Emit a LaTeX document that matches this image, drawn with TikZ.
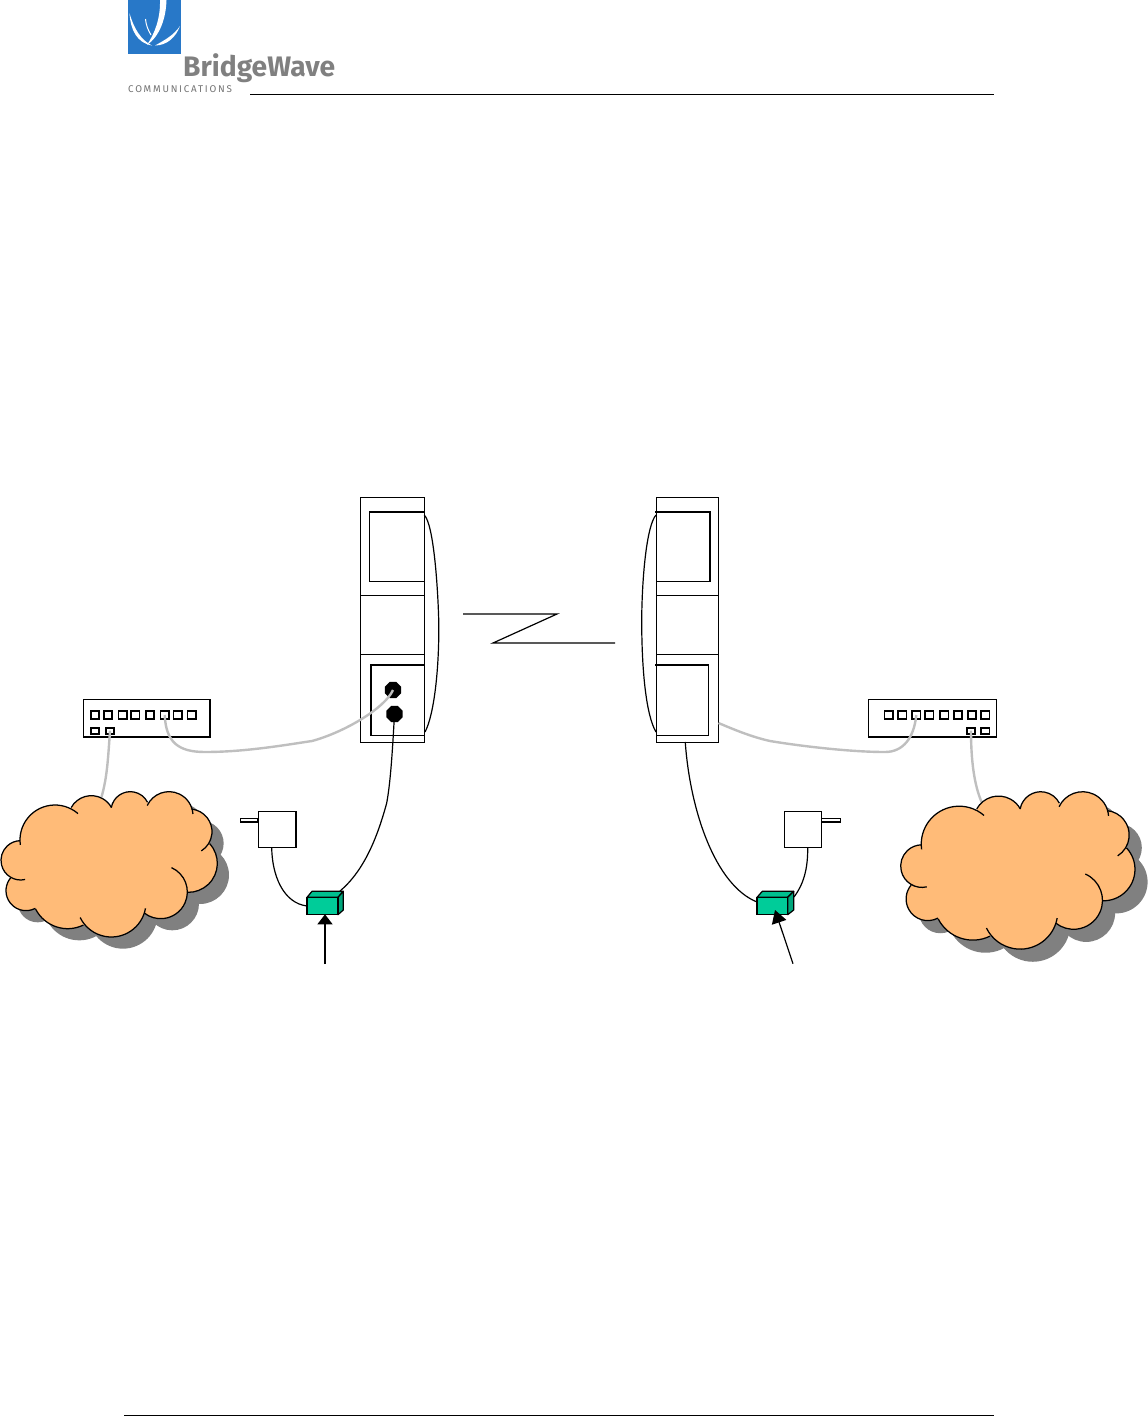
\documentclass[tikz,border=0pt]{standalone}
\usepackage{fontspec}
\usetikzlibrary{arrows.meta,shapes.geometric}
\newfontfamily\logofont{Fira Sans}
\definecolor{cloudfill}{HTML}{FFBB78}
\definecolor{cloudshadow}{HTML}{808080}
\definecolor{cablegray}{HTML}{BFBFBF}
\definecolor{boxgreen}{HTML}{00CC99}
\definecolor{boxtop}{HTML}{00BF8F}
\definecolor{boxside}{HTML}{00A67C}
\definecolor{logoblue}{HTML}{2878C8}
\definecolor{logotext}{HTML}{808080}
\tikzset{
  pbox/.style={draw=black,fill=white,line width=0.9pt,inner sep=0pt,outer sep=0pt,anchor=north west},
  portbox/.style={draw=black,fill=white,line width=1.6pt,inner sep=0pt,outer sep=0pt,minimum width=8.5pt,minimum height=8.5pt},
  portlow/.style={portbox,minimum height=6pt},
  jack/.style={regular polygon,regular polygon sides=8,fill=black,inner sep=0pt,outer sep=0pt,minimum size=17.5pt},
  wire/.style={draw=black,line width=1.2pt},
  edgeline/.style={draw=black,line width=1.9pt,line cap=rect},
  graywire/.style={draw=cablegray,line width=2.4pt},
  pointer/.style={draw=black,line width=1.2pt,-{Triangle[length=10pt,width=15pt]}},
  pointerb/.style={draw=black,line width=1.2pt,-{Triangle[length=13pt,width=15pt]}},
  side/.style={draw=black,line width=1.2pt,line join=round}
}
% cx/cy/r/start/end, in the coordinates of a 3x enlarged view
\def\cloudlist{165/480/105/-188/-49, 274/416/69/-151/-29, 391/393/58/-170/-27,
  507/407/72/-155/-4, 568/455/68/-84/58, 565/550/87/-43/91, 482/636/80/-66/128,
  334/667/104/10/154, 203/638/108/64/153, 78/632/60/62/220, 62/541/59/77/268}
\newcommand\cloudbody[1]{%
  \fill[#1] (165,480) -- (274,416) -- (391,393) -- (507,407) -- (568,455) -- (565,550)
     -- (482,636) -- (334,667) -- (203,638) -- (78,632) -- (62,541) -- cycle;
  \foreach \cx/\cy/\rr/\aa/\bb in \cloudlist {\fill[#1] (\cx,\cy) circle[radius=\rr];}
}
\newcommand\cloudshape{%
  \begin{scope}[shift={(35,35)}]\cloudbody{cloudshadow}\end{scope}
  \cloudbody{cloudfill}
  \foreach \cx/\cy/\rr/\aa/\bb in \cloudlist {
    \draw[draw=black,line width=1.25pt] ({\cx+\rr*cos(\aa)},{\cy+\rr*sin(\aa)}) arc[start angle=\aa,end angle=\bb,radius=\rr];}
}
\begin{document}
\begin{tikzpicture}[x=1pt,y=-1pt]
\useasboundingbox (0,0) rectangle (1148,1416);
% header and footer
\fill[logoblue] (127.5,0) rectangle (181,53.5);
% left crescent
\fill[white] (129.5,13) .. controls (130.5,30) and (137,43) .. (152,45.5) .. controls (141,40) and (134,29) .. (129.5,13) -- cycle;
% right crescent
\fill[white] (180,26) .. controls (176,37) and (167,45.5) .. (155,45.5) .. controls (165,40) and (174,35) .. (180,26) -- cycle;
% long stripe
\fill[white] (160,0) -- (166.5,0) .. controls (166,18) and (160,36) .. (147,45) .. controls (155,33) and (160.5,18) .. (160,0) -- cycle;
% short thin stripe
\draw[white,line width=1pt] (145.5,19) .. controls (146,25) and (148,30) .. (151,35);
\node[inner sep=0pt,anchor=base west,text=logotext,font=\logofont\bfseries\fontsize{28.2}{28}\selectfont] (brand) at (183,76) {BridgeWave};
\node[inner sep=0pt,anchor=base west,text=logotext!90!black,font=\logofont\fontsize{9.8}{9}\selectfont\addfontfeatures{LetterSpace=18}] (comm) at (128,92.3) {COMMUNICATIONS};
\coordinate (hl) at (250,94.7); \coordinate (hr) at (994,94.7);
\draw[line width=1pt] (hl) -- (hr);
\coordinate (fl) at (124,1415); \coordinate (fr) at (994,1415);
\draw[line width=1pt] (fl) -- (fr);

% cable ends on the clouds
\coordinate (cloudLtop) at (101.5,797);
\coordinate (cloudRtop) at (982,803);

% left tower
\node[pbox,minimum width=64.5pt,minimum height=245pt] (towerL) at (360,497) {};
\node[pbox,minimum width=64.5pt,minimum height=59pt] (midL) at (360,595) {};
\node[pbox,minimum width=54.5pt,minimum height=69pt] (ouL) at (369.5,512) {};
\node[pbox,minimum width=53pt,minimum height=70pt] (inL) at (371,665) {};
\draw[edgeline] (ouL.north west) -- (ouL.north east);
\draw[edgeline] (inL.south west) -- (inL.north west) -- (inL.north east);
\node[jack] (j1) at (393,690) {};
\node[jack] (j2) at (394.5,714) {};
% right tower
\node[pbox,minimum width=62.5pt,minimum height=245pt] (towerR) at (656,497) {};
\node[pbox,minimum width=62.5pt,minimum height=59pt] (midR) at (656,595) {};
\node[pbox,minimum width=54pt,minimum height=69pt] (ouR) at (656,512) {};
\node[pbox,minimum width=52.5pt,minimum height=70pt] (inR) at (656,665) {};
\draw[edgeline] (ouR.north west) -- (ouR.north east) -- (ouR.south east);
\draw[edgeline] (inR.north west) -- (inR.north east);

% brackets beside the towers
\coordinate (bLa) at (424.3,515); \coordinate (bLb) at (425,732);
\coordinate (bRa) at (656,515); \coordinate (bRb) at (656,732);
\draw[wire] (bLa) .. controls (434,525) and (438,590) .. (438.8,623) .. controls (439.2,670) and (434,715) .. (bLb);
\draw[wire] (bRa) .. controls (647,525) and (642,575) .. (641.7,620) .. controls (641.7,670) and (646,715) .. (bRb);

% radio link
\coordinate (za) at (463,614); \coordinate (zb) at (557,614); \coordinate (zc) at (493,643); \coordinate (zd) at (615,643);
\draw[line width=1.2pt,line join=miter] (za) -- (zb) -- (zc) -- (zd);

% left switch
\node[pbox,line width=1.5pt,minimum width=126.5pt,minimum height=37.5pt] (swL) at (83.5,699.5) {};
\foreach \i/\x in {1/95,2/108,3/122.7,4/135.3,5/150,6/164.7,7/177.7,8/191.7}
  \node[portbox] (pL\i) at (\x,715) {};
\node[portlow] (qL1) at (95,730.7) {};
\node[portlow] (qL2) at (110,730.7) {};
% right switch
\node[pbox,line width=1.5pt,minimum width=128.4pt,minimum height=37.5pt] (swR) at (868.3,699.5) {};
\foreach \i/\x in {1/888.7,2/902.3,3/916.3,4/929.3,5/944.3,6/958,7/972,8/985.3}
  \node[portbox] (pR\i) at (\x,715) {};
\node[portlow] (qR1) at (971,730.7) {};
\node[portlow] (qR2) at (985.3,730.7) {};

% gray cables
\draw[graywire] (pL6.center) .. controls (166,742) and (178,752) .. (205,752) .. controls (245,752) and (285,745) .. (312,741) .. controls (345,732) and (385,708) .. (j1.center);
\draw[graywire] (qL2.center) .. controls (108,760) and (107,778) .. (cloudLtop);
\draw[graywire] (pR3.center) .. controls (914,738) and (903,752) .. (885,752) .. controls (850,752) and (800,746) .. (770,741) .. controls (752,737) and (735,730) .. (towerR.east |- 0,723);
\draw[graywire] (qR1.center) .. controls (971,760) and (974,785) .. (cloudRtop);

% clouds
\begin{scope}[shift={(0,680)},scale=1/3]
  \cloudshape
\end{scope}
\begin{scope}[shift={(899.6,670.8)},scale=0.361]
  \cloudshape
\end{scope}

% left power adapter and coupler
\node[pbox,line width=1.4pt,minimum width=17.5pt,minimum height=3.6pt] (prongL) at (240.5,818.3) {};
\node[pbox,line width=1.5pt,minimum width=37.7pt,minimum height=36pt] (adL) at (258.3,811.3) {};
\filldraw[side,fill=boxtop] (312,891.3) -- (343.3,891.3) -- (338,897.3) -- (307,897.3) -- cycle;
\filldraw[side,fill=boxside] (338,897.3) -- (343.3,891.3) -- (343.3,910) -- (338,914.7) -- cycle;
\node[pbox,line width=1.3pt,fill=boxgreen,minimum width=31pt,minimum height=17.4pt] (gL) at (307,897.3) {};
\coordinate (gLtop) at (340,891);
\draw[wire] (adL.south west) ++(13.4,0) coordinate (adLout) .. controls (272,875) and (283,903) .. (gL.west);
\draw[wire] (j2.center) .. controls (392,760) and (390,785) .. (386.7,803) .. controls (378,835) and (365,870) .. (gLtop);
\coordinate (tailL) at (325,964); \coordinate (tipL) at (325,914.3);
\draw[pointer] (tailL) -- (tipL);

% right power adapter and coupler
\node[pbox,line width=1.4pt,minimum width=19.2pt,minimum height=3.6pt] (prongR) at (821.3,818.3) {};
\node[pbox,line width=1.5pt,minimum width=36.6pt,minimum height=36pt] (adR) at (784.7,811.3) {};
\filldraw[side,fill=boxtop] (762.3,891.3) -- (793.7,891.3) -- (787.7,897.3) -- (757,897.3) -- cycle;
\filldraw[side,fill=boxside] (787.7,897.3) -- (793.7,891.3) -- (793.7,910) -- (787.7,914.7) -- cycle;
\node[pbox,line width=1.3pt,fill=boxgreen,minimum width=30.7pt,minimum height=17.4pt] (gR) at (757,897.3) {};
\coordinate (gRtop) at (794,897);
\coordinate (gRleft) at (757,902);
\draw[wire] (adR.south east) ++(-13.6,0) coordinate (adRout) .. controls (808,870) and (803,885) .. (gRtop);
\draw[wire] (towerR.south) ++(-2,0) coordinate (towerRout) .. controls (690,810) and (715,885) .. (gRleft);
\coordinate (tailR) at (793,963.7); \coordinate (tipR) at (775,910);
\draw[pointerb] (tailR) -- (tipR);
\end{tikzpicture}
\end{document}
